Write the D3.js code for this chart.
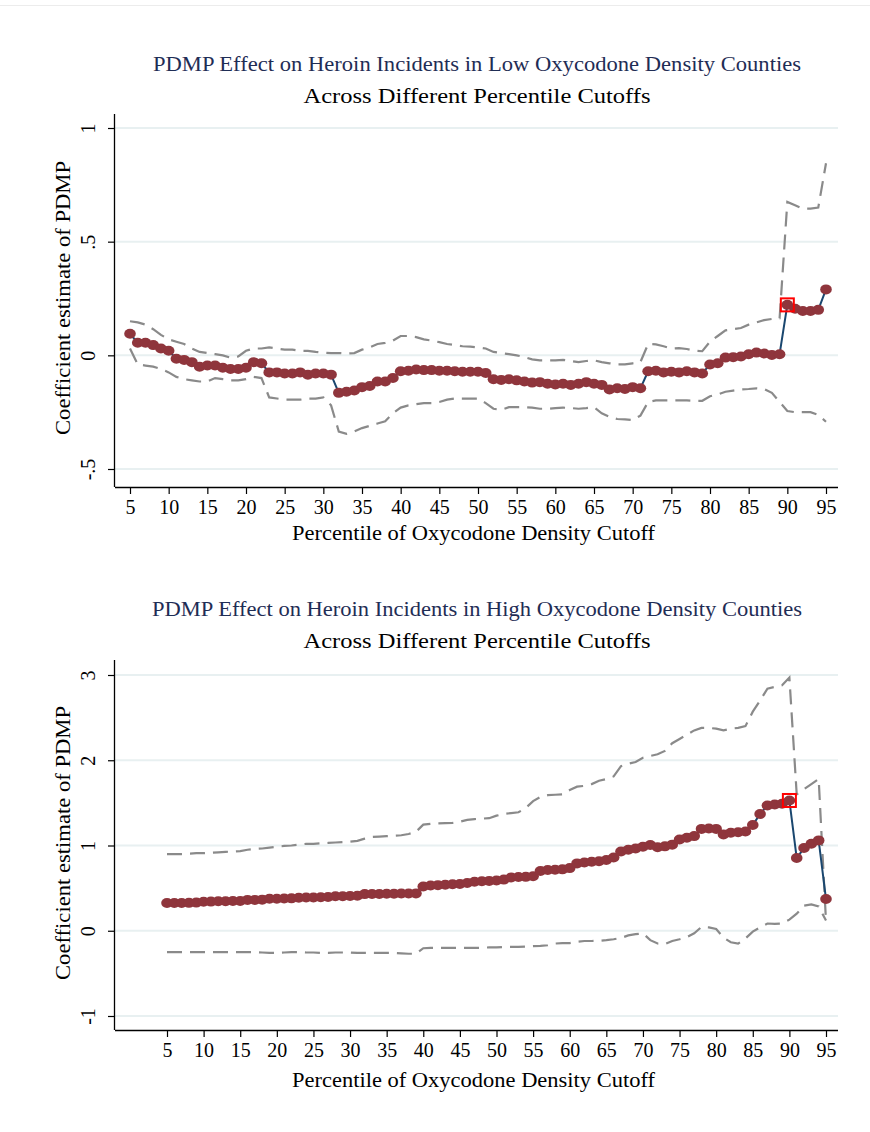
<!DOCTYPE html>
<html>
<head>
<meta charset="utf-8">
<script src="https://cdn.jsdelivr.net/npm/d3@7"></script>
<style>
  body { margin: 0; background: #fff; }
  svg { display: block; }
</style>
</head>
<body>
<svg id="chart" width="870" height="1132"></svg>
<script>
// Percentile cutoffs used for each regression
const percentiles = [5,6,7,8,9,10,11,12,13,14,15,16,17,18,19,20,21,22,23,24,25,26,27,28,29,30,
  31,32,33,34,35,36,37,38,39,40,41,42,43,44,45,46,47,48,49,50,51,52,53,54,55,56,57,58,59,60,
  61,62,63,64,65,66,67,68,69,70,71,72,73,74,75,76,77,78,79,80,81,82,83,84,85,86,87,88,89,90,
  91,92,93,94,95];

// Low oxycodone density counties: point estimate and 95% bounds
const lowEstimate = [0.095,0.055,0.055,0.045,0.030,0.020,-0.015,-0.020,-0.030,-0.050,-0.045,
  -0.045,-0.055,-0.060,-0.060,-0.055,-0.030,-0.035,-0.075,-0.075,-0.080,-0.080,-0.075,-0.085,
  -0.080,-0.080,-0.085,-0.165,-0.160,-0.155,-0.140,-0.135,-0.115,-0.115,-0.100,-0.070,-0.068,
  -0.062,-0.065,-0.065,-0.068,-0.068,-0.070,-0.072,-0.072,-0.072,-0.078,-0.105,-0.108,-0.105,
  -0.110,-0.115,-0.120,-0.118,-0.125,-0.128,-0.125,-0.130,-0.125,-0.118,-0.125,-0.130,-0.150,
  -0.145,-0.148,-0.140,-0.145,-0.070,-0.068,-0.075,-0.072,-0.075,-0.070,-0.075,-0.080,-0.040,
  -0.035,-0.010,-0.008,-0.005,0.005,0.012,0.008,0.002,0.005,0.222,0.205,0.195,0.195,0.200,0.290];
const lowUpper = [0.150,0.145,0.135,0.115,0.090,0.070,0.060,0.050,0.030,0.015,0.010,0.005,0.000,
  -0.010,-0.005,0.020,0.030,0.030,0.035,0.030,0.025,0.025,0.020,0.020,0.015,0.012,0.010,0.010,
  0.008,0.010,0.025,0.035,0.050,0.055,0.065,0.085,0.085,0.080,0.070,0.065,0.058,0.050,0.045,
  0.040,0.038,0.035,0.030,0.015,0.010,0.005,0.000,-0.008,-0.018,-0.022,-0.022,-0.022,-0.020,
  -0.025,-0.030,-0.025,-0.022,-0.030,-0.035,-0.040,-0.040,-0.035,-0.030,0.050,0.048,0.040,
  0.030,0.032,0.028,0.020,0.018,0.060,0.085,0.110,0.115,0.120,0.135,0.145,0.155,0.160,0.163,
  0.675,0.660,0.645,0.645,0.650,0.845];
const lowLower = [0.030,-0.040,-0.045,-0.050,-0.060,-0.075,-0.095,-0.105,-0.110,-0.115,-0.115,
  -0.100,-0.105,-0.110,-0.110,-0.105,-0.095,-0.100,-0.185,-0.190,-0.195,-0.195,-0.195,-0.190,
  -0.190,-0.185,-0.220,-0.335,-0.345,-0.335,-0.320,-0.310,-0.300,-0.290,-0.255,-0.230,-0.220,
  -0.215,-0.210,-0.210,-0.205,-0.195,-0.190,-0.190,-0.190,-0.190,-0.210,-0.235,-0.240,-0.228,
  -0.228,-0.228,-0.230,-0.235,-0.235,-0.232,-0.230,-0.232,-0.235,-0.232,-0.228,-0.255,-0.270,
  -0.280,-0.282,-0.285,-0.265,-0.205,-0.198,-0.198,-0.198,-0.198,-0.198,-0.200,-0.200,-0.180,
  -0.172,-0.160,-0.155,-0.150,-0.148,-0.145,-0.148,-0.165,-0.205,-0.245,-0.250,-0.250,-0.250,
  -0.262,-0.292];

// High oxycodone density counties: point estimate and 95% bounds
const highEstimate = [0.325,0.325,0.325,0.327,0.330,0.340,0.342,0.345,0.345,0.348,0.350,0.362,
  0.362,0.365,0.375,0.375,0.378,0.380,0.388,0.390,0.390,0.392,0.395,0.405,0.405,0.408,0.410,
  0.430,0.432,0.432,0.435,0.435,0.436,0.436,0.438,0.520,0.530,0.535,0.540,0.545,0.548,0.560,
  0.575,0.580,0.585,0.590,0.600,0.625,0.630,0.632,0.640,0.700,0.712,0.715,0.720,0.735,0.790,
  0.800,0.810,0.815,0.830,0.860,0.930,0.950,0.965,0.985,1.005,0.980,0.990,1.010,1.070,1.090,
  1.110,1.195,1.200,1.195,1.130,1.150,1.155,1.165,1.240,1.370,1.470,1.480,1.490,1.528,0.853,
  0.970,1.020,1.060,0.372];
const highUpper = [0.900,0.900,0.900,0.905,0.910,0.910,0.915,0.920,0.925,0.930,0.935,0.950,
  0.960,0.965,0.975,0.985,0.995,1.000,1.010,1.020,1.020,1.025,1.030,1.035,1.040,1.045,1.055,
  1.080,1.100,1.105,1.110,1.115,1.120,1.135,1.160,1.245,1.255,1.260,1.263,1.265,1.280,1.300,
  1.310,1.315,1.320,1.350,1.370,1.380,1.390,1.440,1.520,1.570,1.590,1.595,1.600,1.650,1.690,
  1.700,1.720,1.760,1.780,1.810,1.930,1.960,1.980,2.030,2.050,2.070,2.110,2.200,2.250,2.300,
  2.350,2.380,2.380,2.370,2.350,2.370,2.380,2.400,2.570,2.700,2.840,2.860,2.880,2.970,1.600,
  1.660,1.720,1.780,0.110];
const highLower = [-0.250,-0.250,-0.250,-0.250,-0.250,-0.250,-0.250,-0.250,-0.250,-0.250,-0.250,
  -0.250,-0.250,-0.255,-0.260,-0.260,-0.255,-0.250,-0.250,-0.255,-0.255,-0.260,-0.260,-0.255,
  -0.255,-0.255,-0.260,-0.260,-0.260,-0.260,-0.260,-0.260,-0.265,-0.270,-0.270,-0.205,-0.200,
  -0.200,-0.200,-0.200,-0.200,-0.200,-0.200,-0.200,-0.195,-0.195,-0.190,-0.190,-0.188,-0.185,
  -0.180,-0.178,-0.170,-0.150,-0.145,-0.145,-0.130,-0.120,-0.120,-0.118,-0.110,-0.100,-0.085,
  -0.055,-0.040,-0.030,-0.110,-0.150,-0.155,-0.120,-0.100,-0.075,-0.030,0.045,0.040,0.020,
  -0.080,-0.135,-0.150,-0.090,-0.010,0.040,0.085,0.080,0.085,0.130,0.200,0.295,0.310,0.285,0.120];

// Axis ticks
const xTickValues = [5,10,15,20,25,30,35,40,45,50,55,60,65,70,75,80,85,90,95];
const lowYTicks = [-0.5, 0, 0.5, 1];
const lowYTickLabels = ["-.5", "0", ".5", "1"];
const highYTicks = [-1, 0, 1, 2, 3];
const highYTickLabels = ["-1", "0", "1", "2", "3"];

// Highlighted cutoff
const markedPercentile = 90;

const titles = {
  low: "PDMP Effect on Heroin Incidents in Low Oxycodone Density Counties",
  high: "PDMP Effect on Heroin Incidents in High Oxycodone Density Counties",
  sub: "Across Different Percentile Cutoffs",
  x: "Percentile of Oxycodone Density Cutoff",
  y: "Coefficient estimate of PDMP"
};

const FONT = "'Liberation Serif', 'Times New Roman', serif";
const COLORS = {
  marker: "#8f353c",
  line: "#1a476f",
  ci: "#8a8a8a",
  grid: "#e8f0f1",
  mark: "#ff0000",
  title: "#1f2d55"
};

const svg = d3.select("#chart");

// faint rule along the top edge
svg.append("line")
  .attr("x1", 0).attr("x2", 870).attr("y1", 5.5).attr("y2", 5.5)
  .attr("stroke", "#ececec").attr("stroke-width", 1);

function fitText(sel, width) {
  sel.attr("textLength", width).attr("lengthAdjust", "spacingAndGlyphs");
  return sel;
}

function drawPanel(cfg) {
  const g = svg.append("g");
  const x = d3.scaleLinear().domain([5, 95]).range(cfg.xRange);
  const y = d3.scaleLinear().domain(cfg.yDomain).range(cfg.yRange);

  // titles
  fitText(g.append("text")
    .attr("x", cfg.titleCx).attr("y", cfg.title1Y)
    .attr("text-anchor", "middle")
    .attr("font-family", FONT).attr("font-size", 20)
    .attr("fill", COLORS.title)
    .text(cfg.title), cfg.title1W);
  fitText(g.append("text")
    .attr("x", cfg.titleCx).attr("y", cfg.title2Y)
    .attr("text-anchor", "middle")
    .attr("font-family", FONT).attr("font-size", 22)
    .attr("fill", "#000")
    .text(titles.sub), 347);

  // gridlines
  g.append("g").selectAll("line").data(cfg.yTicks).join("line")
    .attr("x1", cfg.left).attr("x2", cfg.right)
    .attr("y1", d => y(d)).attr("y2", d => y(d))
    .attr("stroke", COLORS.grid).attr("stroke-width", 2);

  // x axis
  const xAxis = g.append("g")
    .attr("transform", `translate(0,${cfg.bottom})`)
    .call(d3.axisBottom(x).tickValues(xTickValues).tickSize(7).tickPadding(6).tickSizeOuter(0));
  xAxis.select(".domain").attr("d", `M${cfg.left},0.5H${cfg.right}`).attr("stroke", "#000").attr("stroke-width", 1.3);
  xAxis.selectAll(".tick line").attr("stroke", "#000").attr("stroke-width", 1.2);
  xAxis.selectAll(".tick text")
    .attr("font-family", FONT).attr("font-size", 20).attr("fill", "#000")
    .attr("dy", "0.71em");

  // y axis
  const yAxis = g.append("g")
    .attr("transform", `translate(${cfg.left},0)`)
    .call(d3.axisLeft(y).tickValues(cfg.yTicks)
      .tickFormat((d, i) => cfg.yLabels[i]).tickSize(7).tickSizeOuter(0));
  yAxis.select(".domain").attr("d", `M-0.5,${cfg.top}V${cfg.bottom}`).attr("stroke", "#000").attr("stroke-width", 1.3);
  yAxis.selectAll(".tick line").attr("stroke", "#000").attr("stroke-width", 1.2);
  yAxis.selectAll(".tick text")
    .attr("font-family", FONT).attr("font-size", 20).attr("fill", "#000")
    .attr("transform", "rotate(-90)")
    .attr("x", 0).attr("y", -20).attr("dy", 0)
    .attr("text-anchor", "middle");

  // axis titles
  fitText(g.append("text")
    .attr("x", (cfg.left + cfg.right) / 2 - 3).attr("y", cfg.xTitleY)
    .attr("text-anchor", "middle")
    .attr("font-family", FONT).attr("font-size", 21).attr("fill", "#000")
    .text(titles.x), 363);
  fitText(g.append("text")
    .attr("transform", `translate(70,${cfg.yTitleCy}) rotate(-90)`)
    .attr("text-anchor", "middle")
    .attr("font-family", FONT).attr("font-size", 21).attr("fill", "#000")
    .text(titles.y), 274);

  const rows = percentiles.map((p, i) => ({
    p, est: cfg.est[i], hi: cfg.hi[i], lo: cfg.lo[i]
  }));

  // confidence bounds
  const ciLine = key => d3.line().x(d => x(d.p)).y(d => y(d[key]));
  ["hi", "lo"].forEach(key => {
    g.append("path").datum(rows)
      .attr("d", ciLine(key))
      .attr("fill", "none").attr("stroke", COLORS.ci)
      .attr("stroke-width", 2.2).attr("stroke-dasharray", "15,8");
  });

  // connected point estimates
  g.append("path").datum(rows)
    .attr("d", d3.line().x(d => x(d.p)).y(d => y(d.est)))
    .attr("fill", "none").attr("stroke", COLORS.line).attr("stroke-width", 2);
  g.append("g").selectAll("ellipse").data(rows).join("ellipse")
    .attr("cx", d => x(d.p)).attr("cy", d => y(d.est))
    .attr("rx", 5.8).attr("ry", 5)
    .attr("fill", COLORS.marker);

  // highlighted cutoff
  const m = rows.find(d => d.p === markedPercentile);
  g.append("rect")
    .attr("x", x(m.p) - 6.5).attr("y", y(m.est) - 6.5)
    .attr("width", 13).attr("height", 13)
    .attr("fill", "none").attr("stroke", COLORS.mark).attr("stroke-width", 2);
}

drawPanel({
  title: titles.low, title1W: 648, titleCx: 477, title1Y: 71, title2Y: 103,
  left: 115, right: 838, top: 114, bottom: 487,
  xRange: [130, 826], yDomain: [-0.5, 1], yRange: [469, 128],
  yTicks: lowYTicks, yLabels: lowYTickLabels,
  xTitleY: 540, yTitleCy: 298,
  est: lowEstimate, hi: lowUpper, lo: lowLower
});

drawPanel({
  title: titles.high, title1W: 650, titleCx: 477, title1Y: 616, title2Y: 648,
  left: 115, right: 838, top: 660, bottom: 1030,
  xRange: [167, 826], yDomain: [-1, 3], yRange: [1016, 675],
  yTicks: highYTicks, yLabels: highYTickLabels,
  xTitleY: 1087, yTitleCy: 843,
  est: highEstimate, hi: highUpper, lo: highLower
});
</script>
</body>
</html>
